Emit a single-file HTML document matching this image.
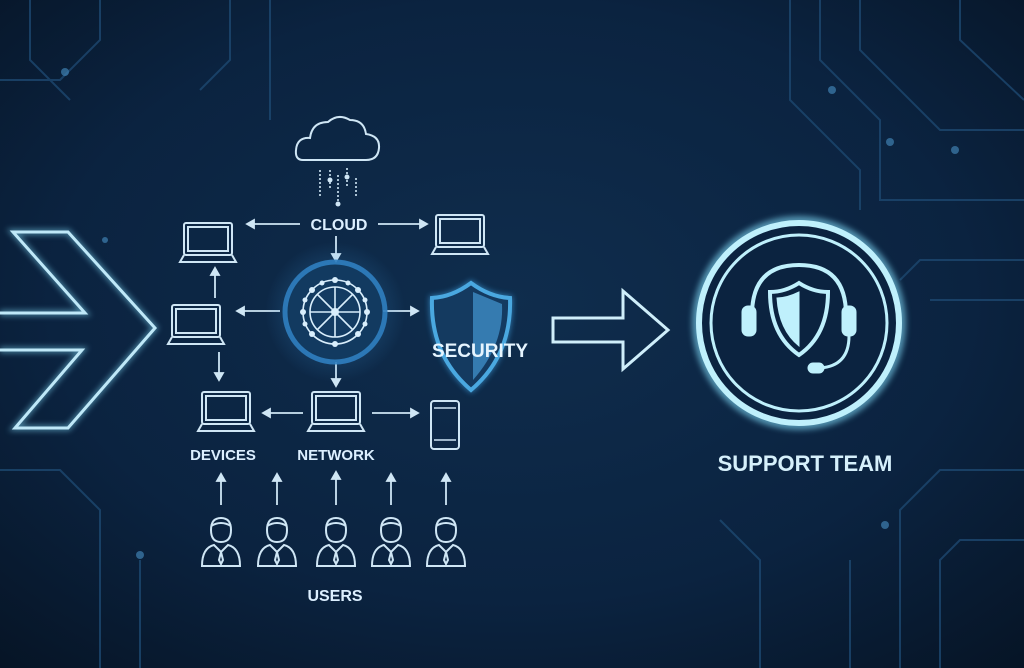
<!DOCTYPE html>
<html><head><meta charset="utf-8"><style>
html,body{margin:0;padding:0;background:#0a2038;}
svg{display:block}
text{font-family:"Liberation Sans",sans-serif;font-weight:bold;}
</style></head><body>
<svg width="1024" height="668" viewBox="0 0 1024 668" xmlns="http://www.w3.org/2000/svg">
<defs>
<radialGradient id="bg" cx="0.5" cy="0.45" r="0.75">
<stop offset="0" stop-color="#0f2d4d"/><stop offset="0.6" stop-color="#0b2340"/><stop offset="1" stop-color="#061425"/>
</radialGradient>
<radialGradient id="glow" cx="0.5" cy="0.5" r="0.5">
<stop offset="0" stop-color="#3a90d0" stop-opacity="0.5"/><stop offset="1" stop-color="#3a90d0" stop-opacity="0"/>
</radialGradient>
<filter id="bl"><feGaussianBlur stdDeviation="3"/></filter>
<g id="lap" fill="none" stroke="#cfe6f5" stroke-width="2">
<rect x="4" y="0" width="48" height="32" rx="2"/><rect x="8" y="4" width="40" height="24"/>
<path d="M4 32 L0 39 L56 39 L52 32"/>
</g>
<g id="usr" fill="none" stroke="#cfe6f5" stroke-width="2">
<path d="M10 14 Q10 2 20 2 Q30 2 30 14 Q30 26 20 26 Q10 26 10 14Z"/>
<path d="M10 10 Q20 4 30 10"/>
<path d="M1 50 Q1 32 13 29 L20 36 L27 29 Q39 32 39 50 Z"/>
<path d="M20 36 L18 44 L20 48 L22 44 Z"/>
</g>
</defs>
<rect width="1024" height="668" fill="url(#bg)"/>
<g stroke="#1d4870" stroke-width="2" fill="none" opacity="0.8">
<path d="M0 80 L60 80 L100 40 L100 0"/><path d="M30 0 L30 60 L70 100"/>
<path d="M230 0 L230 60 L200 90"/><path d="M270 0 L270 120"/>
<path d="M820 0 L820 60 L880 120 L880 200 L1024 200"/><path d="M860 0 L860 50 L940 130 L1024 130"/>
<path d="M790 0 L790 100 L860 170 L860 210"/><path d="M960 0 L960 40 L1024 100"/>
<path d="M1024 260 L920 260 L900 280"/><path d="M1024 300 L930 300"/>
<path d="M1024 470 L940 470 L900 510 L900 668"/><path d="M1024 540 L960 540 L940 560 L940 668"/>
<path d="M760 668 L760 560 L720 520"/><path d="M850 668 L850 560"/>
<path d="M0 470 L60 470 L100 510 L100 668"/><path d="M140 668 L140 560"/>
</g>
<g fill="#3f80b0" opacity="0.7">
<circle cx="65" cy="72" r="4"/><circle cx="955" cy="150" r="4"/><circle cx="890" cy="142" r="4"/><circle cx="832" cy="90" r="4"/><circle cx="885" cy="525" r="4"/><circle cx="140" cy="555" r="4"/><circle cx="105" cy="240" r="3"/>
</g>
<!-- left chevron -->
<path d="M0 313 L85 313 L13 232 L68 232 L155 328 L68 428 L15 428 L82 350 L0 350" fill="none" stroke="#7fd8f5" stroke-width="6" filter="url(#bl)" opacity="0.5"/>
<path d="M0 313 L85 313 L13 232 L68 232 L155 328 L68 428 L15 428 L82 350 L0 350" fill="none" stroke="#bfe8f8" stroke-width="3"/>
<!-- cloud -->
<path d="M303 160 Q295 160 296 150 Q297 137 310 138 Q312 122 328 122 Q338 113 350 120 Q364 120 366 134 Q380 136 379 148 Q378 160 366 160 Z" fill="none" stroke="#cfe6f5" stroke-width="2"/>
<g stroke="#cfe6f5" stroke-width="1.6" stroke-dasharray="2 2">
<line x1="320" y1="170" x2="320" y2="198"/><line x1="330" y1="170" x2="330" y2="188"/><line x1="338" y1="175" x2="338" y2="205"/><line x1="347" y1="168" x2="347" y2="186"/><line x1="356" y1="178" x2="356" y2="198"/>
</g>
<g fill="#cfe6f5"><circle cx="330" cy="180" r="2.5"/><circle cx="338" cy="204" r="2.5"/><circle cx="347" cy="177" r="2.5"/></g>
<text x="339" y="230" font-size="16" fill="#dcefff" text-anchor="middle">CLOUD</text>
<g stroke="#cfe6f5" stroke-width="1.8" fill="#cfe6f5">
<line x1="300" y1="224" x2="250" y2="224"/><path d="M247 224 l7 -4 v8z"/>
<line x1="378" y1="224" x2="424" y2="224"/><path d="M427 224 l-7 -4 v8z"/>
<line x1="336" y1="236" x2="336" y2="257"/><path d="M336 261 l-4 -7 h8z"/>
<line x1="280" y1="311" x2="240" y2="311"/><path d="M237 311 l7 -4 v8z"/>
<line x1="383" y1="311" x2="415" y2="311"/><path d="M418 311 l-7 -4 v8z"/>
<line x1="336" y1="362" x2="336" y2="382"/><path d="M336 386 l-4 -7 h8z"/>
<line x1="215" y1="298" x2="215" y2="272"/><path d="M215 268 l-4 7 h8z"/>
<line x1="219" y1="352" x2="219" y2="376"/><path d="M219 380 l-4 -7 h8z"/>
<line x1="303" y1="413" x2="266" y2="413"/><path d="M263 413 l7 -4 v8z"/>
<line x1="372" y1="413" x2="415" y2="413"/><path d="M418 413 l-7 -4 v8z"/>
<line x1="221" y1="505" x2="221" y2="478"/><path d="M221 474 l-4 7 h8z"/>
<line x1="277" y1="505" x2="277" y2="478"/><path d="M277 474 l-4 7 h8z"/>
<line x1="336" y1="505" x2="336" y2="476"/><path d="M336 472 l-4 7 h8z"/>
<line x1="391" y1="505" x2="391" y2="478"/><path d="M391 474 l-4 7 h8z"/>
<line x1="446" y1="505" x2="446" y2="478"/><path d="M446 474 l-4 7 h8z"/>
</g>
<use href="#lap" x="180" y="223"/>
<use href="#lap" x="432" y="215"/>
<use href="#lap" x="168" y="305"/>
<use href="#lap" x="198" y="392"/>
<use href="#lap" x="308" y="392"/>
<rect x="431" y="401" width="28" height="48" rx="3" fill="none" stroke="#cfe6f5" stroke-width="2"/>
<line x1="434" y1="408" x2="456" y2="408" stroke="#cfe6f5" stroke-width="1.5"/><line x1="434" y1="440" x2="456" y2="440" stroke="#cfe6f5" stroke-width="1.5"/>
<circle cx="335" cy="312" r="70" fill="url(#glow)"/>
<circle cx="335" cy="312" r="50" fill="#123a60" stroke="#2f7fc0" stroke-width="5" opacity="0.9"/>
<g stroke="#d8eefc" stroke-width="1.6" fill="none">
<circle cx="335" cy="312" r="25"/><circle cx="335" cy="312" r="32"/>
<line x1="310" y1="312" x2="360" y2="312"/><line x1="335" y1="287" x2="335" y2="337"/>
<line x1="317" y1="294" x2="353" y2="330"/><line x1="353" y1="294" x2="317" y2="330"/>
</g>
<g fill="#d8eefc"><circle cx="335" cy="312" r="4"/><circle cx="335" cy="280" r="3"/><circle cx="335" cy="344" r="3"/><circle cx="303" cy="312" r="3"/><circle cx="367" cy="312" r="3"/><circle cx="312" cy="290" r="3"/><circle cx="358" cy="290" r="3"/><circle cx="312" cy="334" r="3"/><circle cx="358" cy="334" r="3"/><circle cx="322" cy="283" r="2.5"/><circle cx="348" cy="283" r="2.5"/><circle cx="305" cy="300" r="2.5"/><circle cx="365" cy="300" r="2.5"/><circle cx="305" cy="324" r="2.5"/><circle cx="365" cy="324" r="2.5"/></g>
<path d="M471 283 Q452 297 432 298 Q430 355 471 390 Q512 355 510 298 Q490 297 471 283 Z" fill="#15406a" stroke="#3a9ad8" stroke-width="5" filter="url(#bl)" opacity="0.7"/>
<path d="M471 283 Q452 297 432 298 Q430 355 471 390 Q512 355 510 298 Q490 297 471 283 Z" fill="#143a60" stroke="#4aa8e0" stroke-width="4"/>
<path d="M473 292 L502 304 Q504 345 473 380 Z" fill="#3d8cc4" opacity="0.8"/>
<text x="480" y="357" font-size="19" fill="#e6f5ff" text-anchor="middle">SECURITY</text>
<text x="223" y="460" font-size="15" fill="#dcefff" text-anchor="middle">DEVICES</text>
<text x="336" y="460" font-size="15" fill="#dcefff" text-anchor="middle">NETWORK</text>
<use href="#usr" x="201" y="516"/><use href="#usr" x="257" y="516"/><use href="#usr" x="316" y="516"/><use href="#usr" x="371" y="516"/><use href="#usr" x="426" y="516"/>
<text x="335" y="601" font-size="16" fill="#dcefff" text-anchor="middle">USERS</text>
<path d="M553 318 L623 318 L623 291 L668 330 L623 369 L623 342 L553 342 Z" fill="none" stroke="#cfeefa" stroke-width="3"/>
<circle cx="799" cy="323" r="102" fill="none" stroke="#7fd8f5" stroke-width="10" filter="url(#bl)" opacity="0.6"/>
<circle cx="799" cy="323" r="100" fill="#0b2340" stroke="#bff0fc" stroke-width="6"/>
<circle cx="799" cy="323" r="88" fill="none" stroke="#bff0fc" stroke-width="3"/>
<g stroke="#bff0fc" fill="#bff0fc">
<path d="M752 315 Q752 265 799 265 Q846 265 846 315" fill="none" stroke-width="4"/>
<rect x="742" y="306" width="14" height="30" rx="6"/><rect x="842" y="306" width="14" height="30" rx="6"/>
<path d="M849 336 Q849 366 820 368" fill="none" stroke-width="3"/>
<rect x="808" y="363" width="16" height="10" rx="5"/>
<path d="M799 283 Q785 292 770 292 Q770 335 799 355 Q828 335 828 292 Q813 292 799 283Z" fill="none" stroke-width="4"/>
<path d="M799 292 Q787 298 777 298 Q779 330 799 346 Z"/>
</g>
<text x="805" y="471" font-size="22" fill="#d6f0fb" text-anchor="middle">SUPPORT TEAM</text>
</svg>
</body></html>
